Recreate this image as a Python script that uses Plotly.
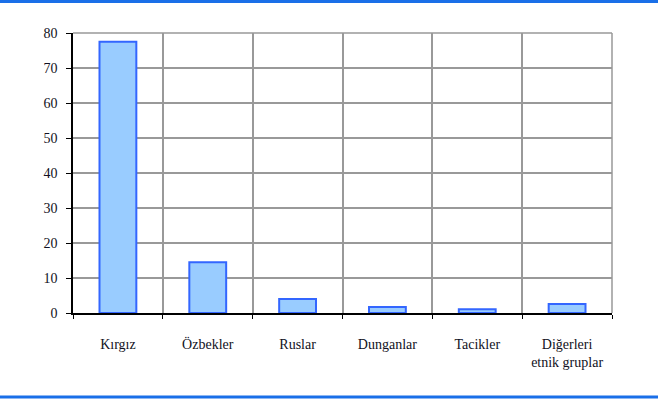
import plotly.graph_objects as go

categories = ["Kırgız", "Özbekler", "Ruslar", "Dunganlar", "Tacikler", "Diğerleri<br>etnik gruplar"]
values = [77.5, 14.5, 4.0, 1.7, 1.1, 2.6]
y_ticks = [0, 10, 20, 30, 40, 50, 60, 70, 80]

fig = go.Figure()
fig.add_trace(go.Bar(
    x=categories, y=values,
    marker=dict(color="#99ccff", line=dict(color="#3366ff", width=2)),
    width=0.41,
))

W, H = 658, 403
ml, mr, mt, mb = 73, 46, 33, 90
ph = H - mt - mb

fig.update_layout(
    width=W, height=H,
    margin=dict(l=ml, r=mr, t=mt, b=mb),
    paper_bgcolor="white", plot_bgcolor="white",
    font=dict(family="Liberation Serif", size=14, color="#111122"),
    showlegend=False,
    xaxis=dict(
        type="category", tickson="boundaries",
        showgrid=True, gridcolor="#999999", gridwidth=1.5,
        ticks="outside", ticklen=4, tickcolor="black",
        showline=True, linecolor="black", linewidth=1.5,
        mirror=False, ticklabelstandoff=17,
        range=[-0.5, 5.5],
    ),
    yaxis=dict(
        range=[0, 80], tickvals=y_ticks,
        showgrid=True, gridcolor="#999999", gridwidth=1.5,
        ticks="outside", ticklen=5, tickcolor="black",
        showline=True, linecolor="black", linewidth=1.5,
        zeroline=False, ticklabelstandoff=6,
    ),
    shapes=[
        dict(type="line", xref="paper", yref="paper", x0=1, x1=1, y0=0, y1=1,
             line=dict(color="#999999", width=1.5)),
        dict(type="line", xref="paper", yref="paper", x0=0, x1=1, y0=1, y1=1,
             line=dict(color="#999999", width=1.5)),
        dict(type="line", xref="paper", yref="paper",
             x0=-ml / (W - ml - mr), x1=1 + mr / (W - ml - mr),
             y0=1 + (mt - 1.5) / ph, y1=1 + (mt - 1.5) / ph,
             line=dict(color="#1a6fe8", width=3)),
        dict(type="line", xref="paper", yref="paper",
             x0=-ml / (W - ml - mr), x1=1 + mr / (W - ml - mr),
             y0=-(397 - (H - mb)) / ph, y1=-(397 - (H - mb)) / ph,
             line=dict(color="#1a6fe8", width=3)),
    ],
)

fig.write_html("out.html", config={"displayModeBar": False},
               post_script="document.body.style.margin='0';")
